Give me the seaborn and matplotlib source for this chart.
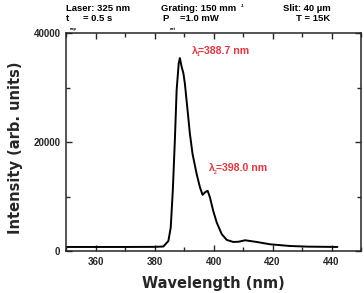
import numpy as np
import pandas as pd
import matplotlib
matplotlib.use("Agg")
import matplotlib.pyplot as plt
from matplotlib.ticker import MultipleLocator
import seaborn as sns

# ── Data ───────────────────────────────────────────────────────────────────
wavelength = [350, 360, 370, 380, 383, 384.7, 385.5, 386.2, 386.9, 387.5, 388.2,
              388.6, 389.2, 389.8, 390.3, 391.1, 392.0, 392.9, 394.3, 395.4,
              396.3, 397.1, 398.0, 398.8, 399.9, 401.1, 402.8, 404.5, 406.7,
              408.5, 410.7, 414.6, 419.2, 425.9, 432.0, 442.0]
intensity = [740, 740, 740, 760, 820, 1840, 4300, 11060, 20280, 29500, 34400,
             35400, 33800, 32600, 30700, 26400, 21500, 17800, 14100, 11700,
             10300, 10750, 11060, 9830, 7370, 5220, 3080, 2030, 1660,
             1700, 1970, 1660, 1230, 920, 800, 740]

peak_labels = ["=388.7 nm", "=398.0 nm"]
peak_subs   = ["1", "2"]

RED = "#e8343c"
W, H = 364, 293

# ── Style ──────────────────────────────────────────────────────────────────
sns.set_style("ticks")
plt.rcParams.update({
    "font.family": ["Liberation Sans", "DejaVu Sans"],
    "font.weight": "bold",
    "axes.linewidth": 1.1,
    "xtick.direction": "in",
    "ytick.direction": "in",
    "xtick.top": True,
    "ytick.right": True,
})

df = pd.DataFrame({"Wavelength (nm)": wavelength, "Intensity": intensity})

fig = plt.figure(figsize=(W / 100, H / 100), dpi=100)
ax = fig.add_axes([66 / W, 1 - 251 / H, 295 / W, 218 / H])

sns.lineplot(data=df, x="Wavelength (nm)", y="Intensity", ax=ax,
             color="black", lw=1.4, estimator=None)

ax.set_xlim(350, 450)
ax.set_ylim(0, 40000)
ax.xaxis.set_major_locator(MultipleLocator(20))
ax.xaxis.set_minor_locator(MultipleLocator(10))
ax.yaxis.set_major_locator(MultipleLocator(20000))
ax.yaxis.set_minor_locator(MultipleLocator(10000))
ax.tick_params(which="major", length=4, width=1, labelsize=7, pad=4)
ax.tick_params(which="minor", length=3, width=1)
for lab in ax.get_xticklabels() + ax.get_yticklabels():
    lab.set_fontweight("bold")

lab_font = dict(fontsize=10.5, fontweight="bold", family=["DejaVu Sans"])
ax.set_xlabel("Wavelength (nm)", **lab_font)
ax.set_ylabel("Intensity (arb. units)", **lab_font)
ax.xaxis.set_label_coords(0.5, -0.115)
ax.yaxis.set_label_coords(-0.146, 0.475)
for s in ax.spines.values():
    s.set_visible(True)


def ftext(x, y, s, size=6.8, color="black"):
    """text placed by pixel position (x from left, y = baseline from top)."""
    fig.text(x / W, 1 - y / H, s, fontsize=size, fontweight="bold",
             color=color, va="baseline", ha="left")


# ── Header (measurement conditions) ───────────────────────────────────────
ftext(66, 11, "Laser: 325 nm")
ftext(161, 11, "Grating: 150 mm")
ftext(240.5, 7, "-1", size=3)
ftext(283, 11, "Slit: 40 µm")
ftext(66, 20.7, "t")
ftext(70, 30, "exp", size=3)
ftext(82.7, 20.7, "= 0.5 s")
ftext(162, 20.7, "P")
ftext(170, 30, "ext", size=3)
ftext(180, 20.7, "=1.0 mW")
ftext(296, 20.7, "T = 15K")

# ── Peak annotations ──────────────────────────────────────────────────────
for (x0, y0), sub, lab in zip([(191.5, 54), (209, 171)], peak_subs, peak_labels):
    ftext(x0, y0, "λ", size=7.6, color=RED)
    ftext(x0 + 5, y0 + 2.5, sub, size=3.5, color=RED)
    ftext(x0 + 7, y0, lab, size=7.6, color=RED)

fig.savefig("out.png", dpi=100)
